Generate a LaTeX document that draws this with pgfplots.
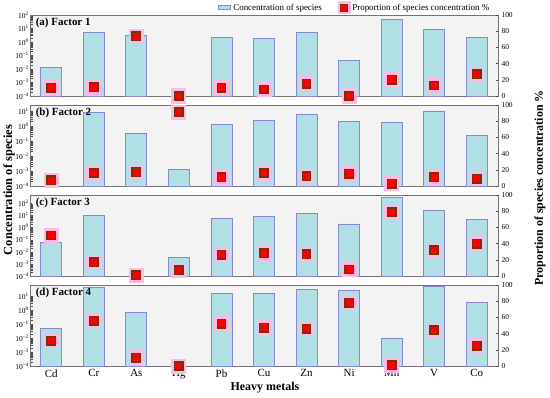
\documentclass[border=0pt]{standalone}
\usepackage{pgfplots}
\pgfplotsset{compat=1.18}
\usepackage{fontspec}
\setmainfont{Liberation Serif}
\definecolor{barfill}{RGB}{176,224,230}
\definecolor{baredge}{RGB}{135,135,210}
\definecolor{bgc}{RGB}{243,243,243}
\definecolor{halo}{RGB}{255,185,228}
\definecolor{mkedge}{RGB}{105,55,10}
\tikzset{panel/.style={font=\bfseries\fontsize{11}{12}\selectfont, anchor=west, inner sep=0pt}}
\newcommand{\tp}[1]{10\textsuperscript{#1}}
\newcommand{\mi}{\char"2212\relax}
\begin{document}
\begin{tikzpicture}
% ---------------- Panel (a)
\begin{axis}[scale only axis, width=468bp, height=81bp, at={(0,0)},
    xmin=-0.5, xmax=10.5, ymode=log, ymin=1e-4, ymax=100, log origin y=infty,
    xtick={0,...,10}, xticklabels={},
    ytick={1e-4,1e-3,1e-2,1e-1,1,10,100}, minor ytick={},
    yticklabels={\tp{\mi4},\tp{\mi3},\tp{\mi2},\tp{\mi1},\tp{0},\tp{1},\tp{2}},
    yticklabel style={font=\fontsize{7.5}{8}\selectfont, inner sep=1bp},
    ytick pos=left, xtick pos=bottom,
    major tick length=2.5bp, tick style={black!70, line width=0.4pt},
    axis line style={black!55, line width=0.6pt},
    axis background/.style={fill=bgc}]
\addplot[ybar, bar width=21bp, fill=barfill, draw=baredge, line width=0.9pt] coordinates {(0,0.012) (1,4.7) (2,3.2) (4,2) (5,1.7) (6,5.5) (7,0.04) (8,50) (9,8) (10,2)};
\node[panel] at (rel axis cs:0.012,0.9) {(a) Factor 1};
\end{axis}
\begin{axis}[scale only axis, width=468bp, height=81bp, at={(0,0)},
    xmin=-0.5, xmax=10.5, ymin=0, ymax=100,
    axis y line*=right, axis x line=none, ytick={0,20,...,100},
    yticklabel style={font=\fontsize{7.5}{8}\selectfont},
    /pgf/number format/assume math mode=true,
    major tick length=2.5bp, tick style={black!70, line width=0.4pt},
    axis line style={black!55, line width=0.6pt}, clip=false,
    legend style={at={(axis description cs:0.40,1.0)}, anchor=south west, legend columns=2, draw=none, fill=none,
    font=\fontsize{9}{10}\selectfont, inner sep=1bp,
    /tikz/every even column/.append style={column sep=14bp}}]
\addlegendimage{legend image code/.code={\draw[fill=barfill, draw=baredge, line width=0.9pt] (0bp,-2bp) rectangle (12bp,2bp);}}
\addlegendentry{Concentration of species}
\addlegendimage{legend image code/.code={\fill[halo] (0bp,-6bp) rectangle (12bp,6bp);\draw[fill=red, draw=mkedge, line width=1.2pt] (2.5bp,-3.5bp) rectangle (9.5bp,3.5bp);}}
\addlegendentry{Proportion of species concentration \%}
\addplot[forget plot, only marks, mark=square*, mark size=7bp, mark options={fill=halo, draw=halo, line width=0pt}] coordinates {(0,10) (1,11) (2,74) (3,0) (4,10) (5,8) (6,15) (7,0) (8,20) (9,13) (10,27)};
\addplot[forget plot, only marks, mark=square*, mark size=4.2bp, mark options={fill=red, draw=mkedge, line width=1.5pt}] coordinates {(0,10) (1,11) (2,74) (3,0) (4,10) (5,8) (6,15) (7,0) (8,20) (9,13) (10,27)};
\end{axis}
% ---------------- Panel (b)
\begin{axis}[scale only axis, width=468bp, height=81bp, at={(0,-90bp)},
    xmin=-0.5, xmax=10.5, ymode=log, ymin=1e-4, ymax=25, log origin y=infty,
    xtick={0,...,10}, xticklabels={},
    ytick={1e-4,1e-3,1e-2,1e-1,1,10}, minor ytick={},
    yticklabels={\tp{\mi4},\tp{\mi3},\tp{\mi2},\tp{\mi1},\tp{0},\tp{1}},
    yticklabel style={font=\fontsize{7.5}{8}\selectfont, inner sep=1bp},
    ytick pos=left, xtick pos=bottom,
    major tick length=2.5bp, tick style={black!70, line width=0.4pt},
    axis line style={black!55, line width=0.6pt},
    axis background/.style={fill=bgc}]
\addplot[ybar, bar width=21bp, fill=barfill, draw=baredge, line width=0.9pt] coordinates {(1,8) (2,0.3) (3,0.0012) (4,1.2) (5,2.5) (6,6) (7,2.1) (8,1.8) (9,10) (10,0.25)};
\node[panel] at (rel axis cs:0.012,0.9) {(b) Factor 2};
\end{axis}
\begin{axis}[scale only axis, width=468bp, height=81bp, at={(0,-90bp)},
    xmin=-0.5, xmax=10.5, ymin=0, ymax=100,
    axis y line*=right, axis x line=none, ytick={0,20,...,100},
    yticklabel style={font=\fontsize{7.5}{8}\selectfont},
    /pgf/number format/assume math mode=true,
    major tick length=2.5bp, tick style={black!70, line width=0.4pt},
    axis line style={black!55, line width=0.6pt}, clip=false]
\addplot[only marks, mark=square*, mark size=7bp, mark options={fill=halo, draw=halo, line width=0pt}] coordinates {(0,7) (1,16) (2,17) (3,91) (4,11) (5,16) (6,12) (7,15) (8,3) (9,11) (10,9)};
\addplot[only marks, mark=square*, mark size=4.2bp, mark options={fill=red, draw=mkedge, line width=1.5pt}] coordinates {(0,7) (1,16) (2,17) (3,91) (4,11) (5,16) (6,12) (7,15) (8,3) (9,11) (10,9)};
\end{axis}
% ---------------- Panel (c)
\begin{axis}[scale only axis, width=468bp, height=81bp, at={(0,-180bp)},
    xmin=-0.5, xmax=10.5, ymode=log, ymin=1e-4, ymax=500, log origin y=infty,
    xtick={0,...,10}, xticklabels={},
    ytick={1e-4,1e-3,1e-2,1e-1,1,10,100}, minor ytick={},
    yticklabels={\tp{\mi4},\tp{\mi3},\tp{\mi2},\tp{\mi1},\tp{0},\tp{1},\tp{2}},
    yticklabel style={font=\fontsize{7.5}{8}\selectfont, inner sep=1bp},
    ytick pos=left, xtick pos=bottom,
    major tick length=2.5bp, tick style={black!70, line width=0.4pt},
    axis line style={black!55, line width=0.6pt},
    axis background/.style={fill=bgc}]
\addplot[ybar, bar width=21bp, fill=barfill, draw=baredge, line width=0.9pt] coordinates {(0,0.06) (1,11) (3,0.0037) (4,6) (5,8) (6,16) (7,2) (8,300) (9,28) (10,5)};
\node[panel] at (rel axis cs:0.012,0.9) {(c) Factor 3};
\end{axis}
\begin{axis}[scale only axis, width=468bp, height=81bp, at={(0,-180bp)},
    xmin=-0.5, xmax=10.5, ymin=0, ymax=100,
    axis y line*=right, axis x line=none, ytick={0,20,...,100},
    yticklabel style={font=\fontsize{7.5}{8}\selectfont},
    /pgf/number format/assume math mode=true,
    major tick length=2.5bp, tick style={black!70, line width=0.4pt},
    axis line style={black!55, line width=0.6pt}, clip=false]
\addplot[only marks, mark=square*, mark size=7bp, mark options={fill=halo, draw=halo, line width=0pt}] coordinates {(0,50) (1,17) (2,1) (3,7) (4,26) (5,28) (6,27) (7,8) (8,79) (9,32) (10,40)};
\addplot[only marks, mark=square*, mark size=4.2bp, mark options={fill=red, draw=mkedge, line width=1.5pt}] coordinates {(0,50) (1,17) (2,1) (3,7) (4,26) (5,28) (6,27) (7,8) (8,79) (9,32) (10,40)};
\end{axis}
% ---------------- Panel (d)
\begin{axis}[scale only axis, width=468bp, height=81bp, at={(0,-270bp)},
    xmin=-0.5, xmax=10.5, ymode=log, ymin=1e-4, ymax=60, log origin y=infty,
    xtick={0,...,10}, xticklabels={Cd,Cr,As,Hg,Pb,Cu,Zn,Ni,Mn,V,Co},
    xticklabel style={font=\fontsize{11}{12}\selectfont},
    ytick={1e-4,1e-3,1e-2,1e-1,1,10}, minor ytick={},
    yticklabels={\tp{\mi4},\tp{\mi3},\tp{\mi2},\tp{\mi1},\tp{0},\tp{1}},
    yticklabel style={font=\fontsize{7.5}{8}\selectfont, inner sep=1bp},
    ytick pos=left, xtick pos=bottom,
    major tick length=2.5bp, tick style={black!70, line width=0.4pt},
    axis line style={black!55, line width=0.6pt},
    axis background/.style={fill=bgc}]
\addplot[ybar, bar width=21bp, fill=barfill, draw=baredge, line width=0.9pt] coordinates {(0,0.044) (1,37) (2,0.7) (4,14) (5,14) (6,27) (7,23) (8,0.01) (9,44) (10,3.2)};
\node[panel] at (rel axis cs:0.012,0.9) {(d) Factor 4};
\end{axis}
\begin{axis}[scale only axis, width=468bp, height=81bp, at={(0,-270bp)},
    xmin=-0.5, xmax=10.5, ymin=0, ymax=100,
    axis y line*=right, axis x line=none, ytick={0,20,...,100},
    yticklabel style={font=\fontsize{7.5}{8}\selectfont},
    /pgf/number format/assume math mode=true,
    major tick length=2.5bp, tick style={black!70, line width=0.4pt},
    axis line style={black!55, line width=0.6pt}, clip=false]
\addplot[only marks, mark=square*, mark size=7bp, mark options={fill=halo, draw=halo, line width=0pt}] coordinates {(0,31) (1,56) (2,10) (3,0) (4,52) (5,47) (6,46) (7,78) (8,1) (9,44) (10,25)};
\addplot[only marks, mark=square*, mark size=4.2bp, mark options={fill=red, draw=mkedge, line width=1.5pt}] coordinates {(0,31) (1,56) (2,10) (3,0) (4,52) (5,47) (6,46) (7,78) (8,1) (9,44) (10,25)};
\end{axis}
% ---------------- global labels
\node[rotate=90, font=\bfseries\fontsize{12.5}{13}\selectfont] at (-21bp,-94bp) {Concentration of species};
\node[rotate=90, font=\bfseries\fontsize{12}{13}\selectfont] at (510bp,-92bp) {Proportion of species concentration \%};
\node[font=\bfseries\fontsize{12}{13}\selectfont] at (235bp,-292bp) {Heavy metals};
\pgfresetboundingbox
\useasboundingbox (-30bp,-302bp) rectangle (520bp,96bp);
\end{tikzpicture}
\end{document}
